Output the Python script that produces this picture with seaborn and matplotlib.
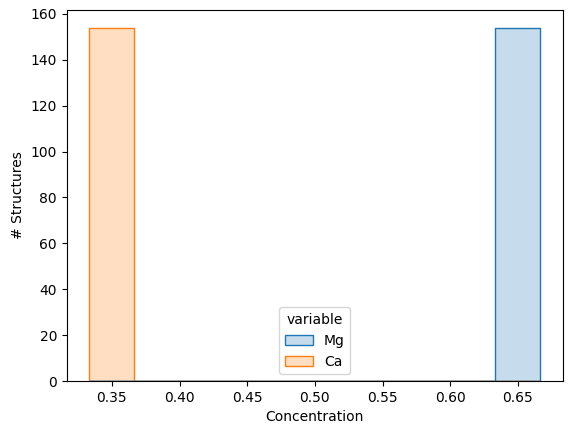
import matplotlib
matplotlib.use("Agg")
import matplotlib.pyplot as plt
import numpy as np
import pandas as pd
import seaborn as sns

# concentration of each element in every structure (154 structures)
n_structures = 154
mg_conc = [2 / 3] * n_structures
ca_conc = [1 / 3] * n_structures

df = pd.DataFrame({"Mg": mg_conc, "Ca": ca_conc})
long_df = df.melt()

fig, ax = plt.subplots(figsize=(5.71, 4.34), dpi=100)
sns.histplot(data=long_df, x="value", hue="variable", element="step", ax=ax)
ax.set_xlabel("Concentration")
ax.set_ylabel("# Structures")
fig.subplots_adjust(left=0.117, right=0.986, top=0.977, bottom=0.122)
fig.savefig("out.png", dpi=100)
plt.close(fig)
